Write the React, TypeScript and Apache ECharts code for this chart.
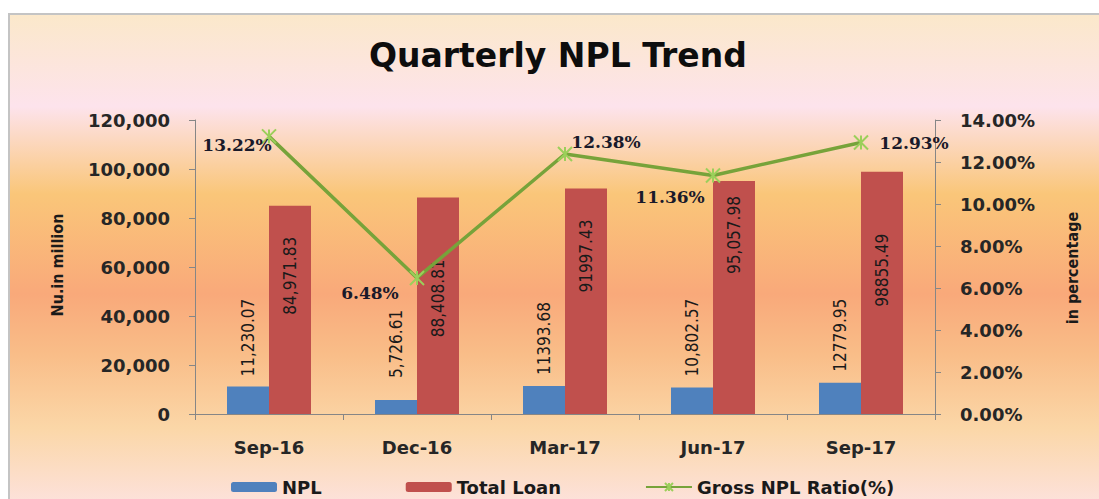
import React, { useEffect, useRef } from "react";
import * as echarts from "echarts";

const categories = ["Sep-16", "Dec-16", "Mar-17", "Jun-17", "Sep-17"];
const nplValues = [11230.07, 5726.61, 11393.68, 10802.57, 12779.95];
const nplLabels = ["11,230.07", "5,726.61", "11393.68", "10,802.57", "12779.95"];
const totalLoanValues = [84971.83, 88408.81, 91997.43, 95057.98, 98855.49];
const totalLoanLabels = ["84,971.83", "88,408.81", "91997.43", "95,057.98", "98855.49"];
const ratioValues = [13.22, 6.48, 12.38, 11.36, 12.93];
const ratioLabels = ["13.22%", "6.48%", "12.38%", "11.36%", "12.93%"];
const leftAxisTicks = { min: 0, max: 120000, interval: 20000 };
const rightAxisTicks = { min: 0, max: 14, interval: 2 };

const WIDE = "'DejaVu Sans', Verdana, sans-serif";
const NARROW = "'DejaVu Sans Condensed', 'Liberation Sans Narrow', Lato, sans-serif";
const SERIF = "'DejaVu Serif', Georgia, serif";

// layout of labels (not data)
const nplLabelGap = [10, 22, 11, 11, 11];
const loanLabelGap = [31, 62, 31, 15, 62];
const ratioLabelOffset: [number, number][] = [
  [-32, 9],
  [-47, 15],
  [41, -12],
  [-43, 22],
  [53, 1],
];

export default function App() {
  const ref = useRef<HTMLDivElement>(null);
  useEffect(() => {
    document.body.style.margin = "0";
    if (!ref.current) return;
    const chart = echarts.init(ref.current, null, { renderer: "svg" });
    const bg = new echarts.graphic.LinearGradient(0, 0, 0, 1, [
      { offset: 0, color: "#fbe8ca" },
      { offset: 0.185, color: "#fde3ec" },
      { offset: 0.36, color: "#fac679" },
      { offset: 0.56, color: "#f9a97a" },
      { offset: 0.68, color: "#f9bd88" },
      { offset: 0.83, color: "#fbd7a8" },
      { offset: 1, color: "#fde3e3" },
    ]);
    const axisLine = { show: true, lineStyle: { color: "#868686", width: 1 } };
    const axisLabelStyle = {
      fontFamily: WIDE,
      fontWeight: "bold" as const,
      fontSize: 18,
      color: "#262626",
    };
    const option: any = {
      animation: false,
      backgroundColor: "#ffffff",
      graphic: [
        {
          type: "rect",
          z: 0,
          silent: true,
          shape: { x: 9, y: 14, width: 1100, height: 500 },
          style: { fill: bg, stroke: "#c4c4c4", lineWidth: 2 },
        },
        {
          type: "text",
          z: 10,
          x: 57,
          y: 265,
          rotation: Math.PI / 2,
          style: {
            text: "Nu.in million",
            font: "bold 16px " + NARROW,
            fill: "#1a1a1a",
            textAlign: "center",
            textVerticalAlign: "middle",
          },
        },
        {
          type: "text",
          z: 10,
          x: 1072,
          y: 268,
          rotation: Math.PI / 2,
          style: {
            text: "in percentage",
            font: "bold 16px " + NARROW,
            fill: "#1a1a1a",
            textAlign: "center",
            textVerticalAlign: "middle",
          },
        },
      ],
      title: {
        text: "Quarterly NPL Trend",
        left: 364,
        top: 34,
        textStyle: {
          fontFamily: WIDE,
          fontWeight: "bold",
          fontSize: 33,
          color: "#0d0d0d",
        },
      },
      grid: {
        left: 195,
        right: 164,
        top: 120,
        bottom: 85,
        show: true,
        backgroundColor: "#f2f2f2",
        borderWidth: 0,
      },
      legend: {
        left: 226,
        top: 473,
        itemWidth: 46,
        itemHeight: 10,
        itemGap: 84,
        textStyle: { fontFamily: WIDE, fontWeight: "bold", fontSize: 18, color: "#1a1a1a" },
        data: ["NPL", "Total Loan", "Gross NPL Ratio(%)"],
      },
      xAxis: {
        type: "category",
        data: categories,
        axisLine,
        axisTick: { show: true, length: 6, lineStyle: { color: "#868686" } },
        axisLabel: { ...axisLabelStyle, margin: 24 },
        splitLine: { show: false },
      },
      yAxis: [
        {
          type: "value",
          ...leftAxisTicks,
          axisLine,
          axisTick: { show: true, length: 6, lineStyle: { color: "#868686" } },
          splitLine: { show: false },
          axisLabel: {
            ...axisLabelStyle,
            margin: 25,
            formatter: (v: number) => v.toLocaleString("en-US"),
          },
        },
        {
          type: "value",
          position: "right",
          ...rightAxisTicks,
          axisLine,
          axisTick: { show: true, length: 6, lineStyle: { color: "#868686" } },
          splitLine: { show: false },
          axisLabel: {
            ...axisLabelStyle,
            margin: 25,
            formatter: (v: number) => v.toFixed(2) + "%",
          },
        },
      ],
      series: [
        {
          name: "NPL",
          type: "bar",
          barWidth: 42,
          barGap: "0%",
          itemStyle: { color: "#4f81bd" },
          data: nplValues.map((v, i) => ({
            value: v,
            label: { distance: nplLabelGap[i] },
          })),
          label: {
            show: true,
            position: "top",
            rotate: 90,
            align: "left",
            verticalAlign: "middle",
            fontFamily: NARROW,
            fontSize: 17,
            color: "#1a1a1a",
            formatter: (p: any) => nplLabels[p.dataIndex],
          },
        },
        {
          name: "Total Loan",
          type: "bar",
          barWidth: 42,
          barGap: "0%",
          itemStyle: { color: "#c0504d" },
          data: totalLoanValues.map((v, i) => ({
            value: v,
            label: { distance: loanLabelGap[i] },
          })),
          label: {
            show: true,
            position: "insideTop",
            rotate: 90,
            align: "right",
            verticalAlign: "middle",
            fontFamily: NARROW,
            fontSize: 17,
            color: "#1a1a1a",
            formatter: (p: any) => totalLoanLabels[p.dataIndex],
          },
        },
        {
          name: "Gross NPL Ratio(%)",
          type: "line",
          yAxisIndex: 1,
          symbol: "path://M5,0 L5,10 M0,0 L10,10 M0,10 L10,0",
          symbolSize: 14,
          lineStyle: { color: "#77a33a", width: 3.5 },
          itemStyle: { color: "#9bcf5a", borderColor: "#9bcf5a", borderWidth: 2 },
          z: 5,
          data: ratioValues.map((v, i) => ({
            value: v,
            label: { offset: ratioLabelOffset[i] },
          })),
          label: {
            show: true,
            position: "inside",
            fontFamily: SERIF,
            fontWeight: "bold",
            fontSize: 17,
            color: "#1a1a2a",
            formatter: (p: any) => ratioLabels[p.dataIndex],
          },
        },
      ],
    };
    chart.setOption(option);
    return () => chart.dispose();
  }, []);
  return <div ref={ref} style={{ width: 1099, height: 499 }} />;
}
